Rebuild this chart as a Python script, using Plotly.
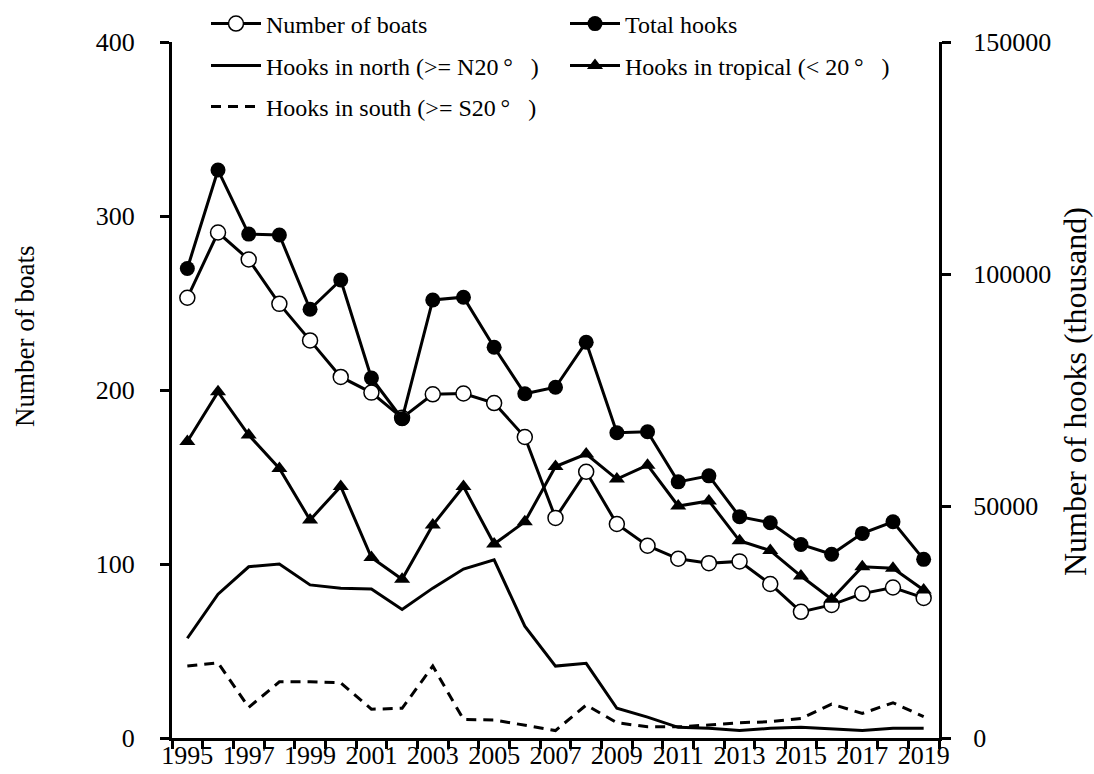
import plotly.graph_objects as go

years = list(range(1995, 2020))
boats = [253, 290.5, 275, 249.5, 228.5, 207.5, 198.5, 184, 197.5, 198, 192.5, 173,
         126.5, 153, 123, 110.5, 103, 100.5, 101.5, 88.5, 72.5, 76.5, 83, 86.5, 80.5]
total_hooks = [101200, 122400, 108600, 108400, 92400, 98700, 77600, 68800, 94400, 95000,
               84200, 74200, 75600, 85300, 65800, 66000, 55200, 56500, 47700, 46400,
               41700, 39600, 44100, 46600, 38500]
hooks_tropical = [63900, 74600, 65300, 58100, 47000, 54200, 38900, 34200, 45900, 54200,
                  41800, 46600, 58500, 61200, 55800, 58800, 50000, 51100, 42500, 40400,
                  34900, 29900, 36900, 36600, 31900]
hooks_north = [21500, 31000, 36900, 37500, 33000, 32300, 32100, 27700, 32300, 36400,
               38400, 24100, 15500, 16100, 6400, 4500, 2300, 2100, 1600, 2100,
               2300, 1900, 1600, 2100, 2100]
hooks_south = [15500, 16200, 6600, 12100, 12100, 11900, 6200, 6400, 15500, 4000,
               3900, 2800, 1600, 7100, 3300, 2400, 2400, 2800, 3300, 3500,
               4200, 7300, 5300, 7600, 4600]
x_labels = [str(y) for y in range(1995, 2020, 2)]

FONT = '"Liberation Serif", "Times New Roman", "DejaVu Serif", serif'
LW = 3

fig = go.Figure()
fig.add_trace(go.Scatter(
    x=years, y=boats, name="Number of boats", mode="lines+markers",
    line=dict(color="black", width=LW),
    marker=dict(symbol="circle", size=15, color="white", line=dict(color="black", width=1.5)),
    legend="legend", yaxis="y"))
fig.add_trace(go.Scatter(
    x=years, y=total_hooks, name="Total hooks", mode="lines+markers",
    line=dict(color="black", width=LW),
    marker=dict(symbol="circle", size=15, color="black"),
    legend="legend", yaxis="y2"))
fig.add_trace(go.Scatter(
    x=years, y=hooks_north, name="Hooks in north (>= N20\u2009°\u00a0\u00a0\u00a0)", mode="lines",
    line=dict(color="black", width=LW),
    legend="legend2", yaxis="y2"))
fig.add_trace(go.Scatter(
    x=years, y=hooks_tropical, name="Hooks in tropical (< 20\u2009°\u00a0\u00a0\u00a0)", mode="lines+markers",
    line=dict(color="black", width=LW),
    marker=dict(symbol="triangle-up", size=14, color="black"),
    legend="legend2", yaxis="y2"))
fig.add_trace(go.Scatter(
    x=years, y=hooks_south, name="Hooks in south (>= S20\u2009°\u00a0\u00a0\u00a0)", mode="lines",
    line=dict(color="black", width=LW, dash="10px,7px"),
    legend="legend3", yaxis="y2"))

L, R, T, B = 172, 155, 42, 36
PW = 1094 - L - R
PH = 774 - T - B

def px_x(p):
    return (p - L) / PW

def px_y(p):
    return (774 - B - p) / PH

leg_common = dict(orientation="h", xanchor="left", yanchor="middle",
                  font=dict(family=FONT, size=24, color="black"),
                  bgcolor="rgba(0,0,0,0)", itemwidth=50,
                  entrywidth=294, entrywidthmode="pixels")

fig.update_layout(
    width=1094, height=774,
    margin=dict(l=L, r=R, t=T, b=B, autoexpand=False),
    paper_bgcolor="white", plot_bgcolor="white",
    font=dict(family=FONT, color="black"),
    showlegend=True,
    legend=dict(x=px_x(206), y=px_y(24), **leg_common),
    legend2=dict(x=px_x(206), y=px_y(66), **leg_common),
    legend3=dict(x=px_x(206), y=px_y(107), **leg_common),
    xaxis=dict(range=[1994.5, 2019.5], tickmode="array",
               tickvals=list(range(1995, 2020, 2)), ticktext=x_labels,
               ticks="", showgrid=False, zeroline=False,
               showline=True, linecolor="black", linewidth=LW,
               ticklabelstandoff=-8,
               tickfont=dict(family=FONT, size=26, color="black"),
               minor=dict(ticks="outside", tick0=1994.5, dtick=1, ticklen=8,
                          tickwidth=3, tickcolor="black", showgrid=False)),
    yaxis=dict(range=[0, 400], tickmode="linear", tick0=0, dtick=100,
               ticks="outside", ticklen=9, tickwidth=3, tickcolor="black",
               showgrid=False, zeroline=False,
               showline=True, linecolor="black", linewidth=LW,
               ticklabelstandoff=20,
               tickfont=dict(family=FONT, size=26, color="black")),
    yaxis2=dict(range=[0, 150000], tickmode="linear", tick0=0, dtick=50000,
                tickformat="d",
                overlaying="y", side="right",
                ticks="outside", ticklen=9, tickwidth=3, tickcolor="black",
                showgrid=False, zeroline=False,
                showline=True, linecolor="black", linewidth=LW,
                ticklabelstandoff=17,
                tickfont=dict(family=FONT, size=26, color="black")),
    annotations=[
        dict(text="Number of boats", x=px_x(25), y=px_y(337), xref="paper", yref="paper",
             textangle=-90, showarrow=False, xanchor="center", yanchor="middle",
             font=dict(family=FONT, size=27, color="black")),
        dict(text="Number of hooks (thousand)", x=px_x(1075), y=px_y(392), xref="paper", yref="paper",
             textangle=-90, showarrow=False, xanchor="center", yanchor="middle",
             font=dict(family=FONT, size=32, color="black")),
    ],
)

fig.write_html("out.html", config={"displayModeBar": False},
               post_script="document.body.style.margin='0';document.body.style.padding='0';document.body.style.overflow='hidden';")
